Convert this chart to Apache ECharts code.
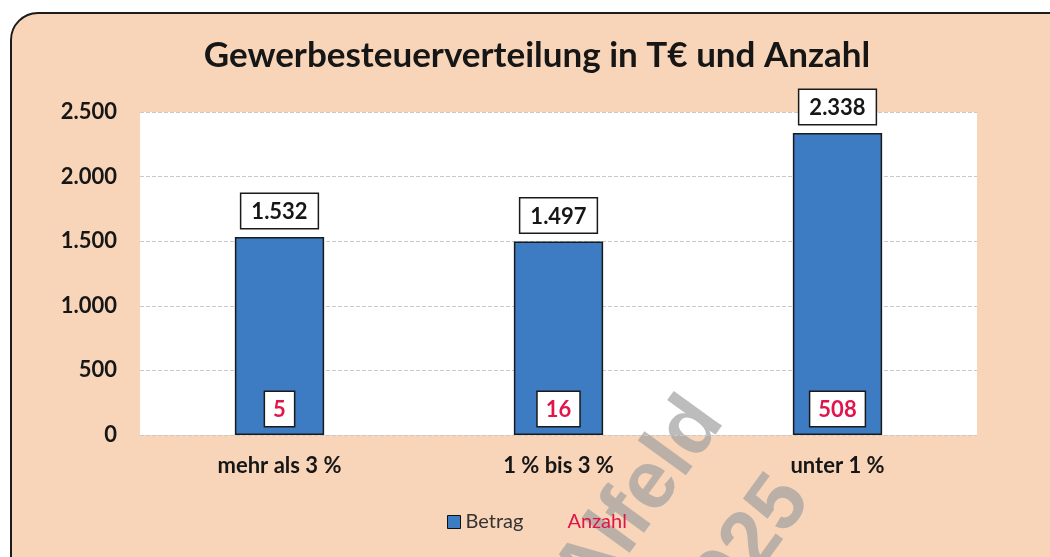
<!DOCTYPE html>
<html>
<head>
<meta charset="utf-8">
<script src="https://cdn.jsdelivr.net/npm/echarts@6/dist/echarts.min.js"></script>
<style>
  html, body { margin: 0; padding: 0; background: #fff; overflow: hidden; }
  .frame {
    position: absolute; left: 10px; top: 12px; width: 1080px; height: 580px;
    background: #f8d5b9; border: 2px solid #1c1c1c; border-radius: 28px;
  }
  #chart { position: absolute; left: 0; top: 0; width: 1050px; height: 557px; }
</style>
</head>
<body>
<div class="frame"></div>
<div id="chart"></div>
<script>
const categories = ["mehr als 3 %", "1 % bis 3 %", "unter 1 %"];
const betrag = [1532, 1497, 2338];
const anzahl = [5, 16, 508];
const yTicks = [0, 500, 1000, 1500, 2000, 2500];

const fmt = (v) => v.toLocaleString("de-DE");
const font = "Lato, 'Open Sans', sans-serif";

const chart = echarts.init(document.getElementById("chart"), null, { renderer: "canvas" });

const option = {
  backgroundColor: "transparent",
  title: {
    text: "Gewerbesteuerverteilung in T€ und Anzahl",
    left: 532,
    top: 33,
    textAlign: "center",
    textStyle: { fontFamily: font, fontSize: 35, fontWeight: "bold", color: "#161616" },
  },
  grid: {
    left: 140, right: 73, top: 112, bottom: 122,
    show: true, backgroundColor: "#ffffff", borderWidth: 0,
  },
  legend: {
    bottom: 20,
    left: 442,
    itemGap: 26,
    itemWidth: 13,
    itemHeight: 13,
    textStyle: { fontFamily: font, fontSize: 20, color: "#333" },
    data: [
      { name: "Betrag", icon: "rect", itemStyle: { borderColor: "#111", borderWidth: 1 } },
      { name: "Anzahl", icon: "none", textStyle: { color: "#e0154a" } },
    ],
  },
  xAxis: {
    type: "category",
    data: categories,
    axisLine: { show: false },
    axisTick: { show: false },
    axisLabel: { margin: 20, fontFamily: font, fontSize: 22, fontWeight: "bold", color: "#161616" },
  },
  yAxis: {
    type: "value",
    min: yTicks[0],
    max: yTicks[yTicks.length - 1],
    interval: 500,
    axisLine: { show: false },
    axisTick: { show: false },
    splitLine: { lineStyle: { color: "#c9c9c9", type: [4, 2], width: 1 } },
    axisLabel: {
      margin: 23, fontFamily: font, fontSize: 22, fontWeight: "bold", color: "#161616",
      formatter: (v) => fmt(v),
    },
  },
  series: [
    {
      name: "Betrag",
      type: "bar",
      barWidth: "32%",
      data: betrag,
      itemStyle: { color: "#3d7cc2", borderColor: "#1a1a1a", borderWidth: 1.5 },
      label: {
        show: true,
        position: "top",
        distance: 9,
        formatter: (p) => fmt(p.value),
        fontFamily: font, fontSize: 22, fontWeight: "bold", color: "#161616",
        backgroundColor: "#fff", borderColor: "#1a1a1a", borderWidth: 1.5,
        padding: [7, 10, 5, 10],
      },
      z: 2,
    },
    {
      name: "Anzahl",
      type: "scatter",
      symbolSize: 0,
      itemStyle: { opacity: 1, color: "#e0154a" },
      data: anzahl.map((n, i) => [i, 0, n]),
      label: {
        show: true,
        position: "top",
        distance: 9,
        opacity: 1,
        formatter: (p) => fmt(p.value[2]),
        fontFamily: font, fontSize: 22, fontWeight: "bold", color: "#e0154a",
        backgroundColor: "#fff", borderColor: "#1a1a1a", borderWidth: 1.5,
        padding: [7, 8, 5, 8],
      },
      z: 5,
    },
  ],
  graphic: [
    {
      type: "text",
      x: 640, y: 500,
      rotation: Math.PI * 0.3,
      style: {
        text: "Alfeld", fontFamily: "'Liberation Sans', Arial, sans-serif",
        fontSize: 82, fontWeight: "bold", fill: "rgba(160,160,160,0.7)",
        align: "center", verticalAlign: "middle",
      },
      silent: true,
    },
    {
      type: "text",
      x: 740, y: 560,
      rotation: Math.PI * 0.3,
      style: {
        text: "2025", fontFamily: "'Liberation Sans', Arial, sans-serif",
        fontSize: 82, fontWeight: "bold", fill: "rgba(160,160,160,0.7)",
        align: "center", verticalAlign: "middle",
      },
      silent: true,
    },
  ],
};

chart.setOption(option);
</script>
</body>
</html>
